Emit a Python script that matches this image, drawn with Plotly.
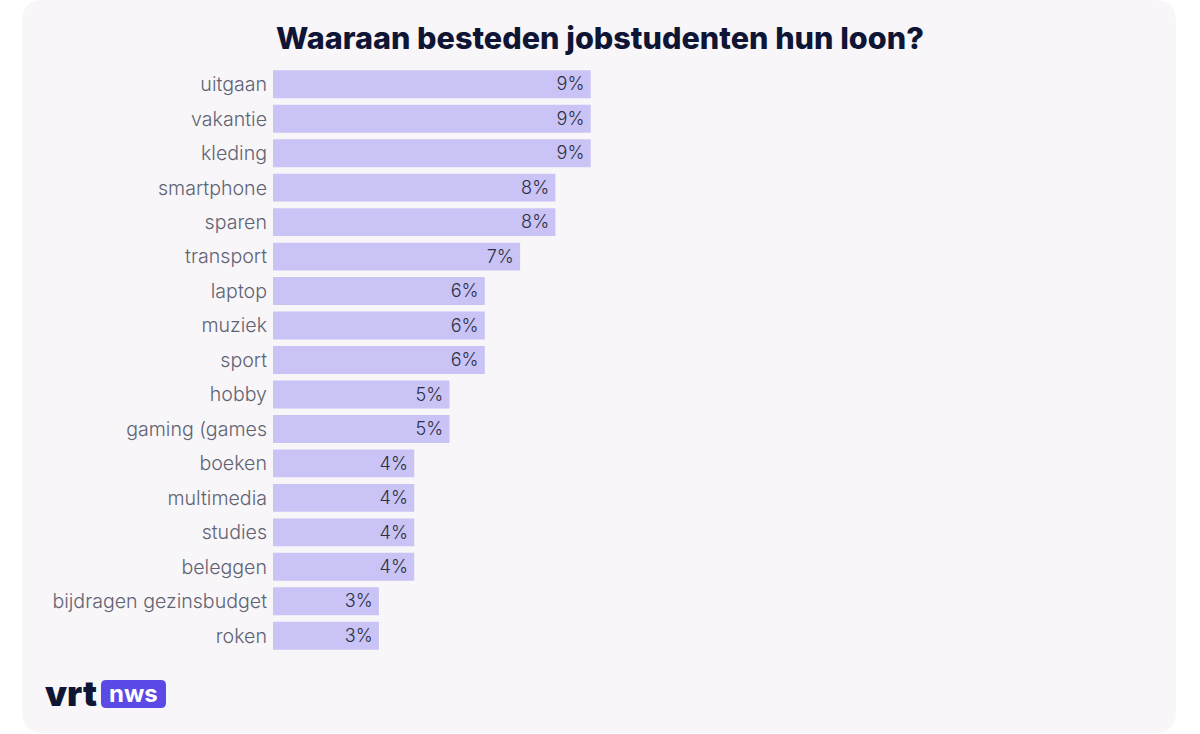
import plotly.graph_objects as go

categories = [
    "uitgaan", "vakantie", "kleding", "smartphone", "sparen", "transport",
    "laptop", "muziek", "sport", "hobby", "gaming (games", "boeken",
    "multimedia", "studies", "beleggen", "bijdragen gezinsbudget", "roken",
]
percentages = [9, 9, 9, 8, 8, 7, 6, 6, 6, 5, 5, 4, 4, 4, 4, 3, 3]

W, H = 1200, 734
ML, MR, MT, MB = 273, 100, 67, 81
PW, PH = W - ML - MR, H - MT - MB


def px(x):
    return (x - ML) / PW


def py(y):
    return (H - MB - y) / PH


def rounded_rect(x0, y0, x1, y1, r):
    # path in paper coords for a rounded rectangle given in pixels
    pts = [
        f"M {px(x0 + r)},{py(y0)}",
        f"L {px(x1 - r)},{py(y0)}",
        f"Q {px(x1)},{py(y0)} {px(x1)},{py(y0 + r)}",
        f"L {px(x1)},{py(y1 - r)}",
        f"Q {px(x1)},{py(y1)} {px(x1 - r)},{py(y1)}",
        f"L {px(x0 + r)},{py(y1)}",
        f"Q {px(x0)},{py(y1)} {px(x0)},{py(y1 - r)}",
        f"L {px(x0)},{py(y0 + r)}",
        f"Q {px(x0)},{py(y0)} {px(x0 + r)},{py(y0)}",
        "Z",
    ]
    return " ".join(pts)


fig = go.Figure(
    go.Bar(
        x=percentages,
        y=categories,
        orientation="h",
        marker_color="#c9c3f6",
        marker_line_width=0,
        text=[f"{v}%\u2009" for v in percentages],
        textposition="inside",
        insidetextanchor="end",
        textfont=dict(family="Inter", size=19, color="#2d3042", weight=300),
        hoverinfo="skip",
    )
)

fig.update_layout(
    width=W,
    height=H,
    margin=dict(l=ML, r=MR, t=MT, b=MB),
    paper_bgcolor="white",
    plot_bgcolor="rgba(0,0,0,0)",
    bargap=0.19,
    showlegend=False,
    title=dict(
        text="Waaraan besteden jobstudenten hun loon?",
        x=0.5,
        xref="container",
        xanchor="center",
        y=1 - 38 / H,
        yref="container",
        yanchor="middle",
        font=dict(family="Inter", size=30.6, color="#0f1535", weight=800),
    ),
    xaxis=dict(
        range=[0, PW / 35.3],
        visible=False,
        fixedrange=True,
    ),
    yaxis=dict(
        autorange="reversed",
        showgrid=False,
        zeroline=False,
        showline=False,
        ticks="",
        ticklabelstandoff=5,
        tickfont=dict(family="Inter", size=19.6, color="#5f6374", weight=300),
        fixedrange=True,
    ),
    shapes=[
        dict(
            type="path",
            path=rounded_rect(22, 0, 1176, 733, 22),
            xref="paper",
            yref="paper",
            fillcolor="#f8f6f8",
            line_width=0,
            layer="below",
        ),
        dict(
            type="path",
            path=rounded_rect(101, 680, 166, 708, 5),
            xref="paper",
            yref="paper",
            fillcolor="#5b4ae6",
            line_width=0,
            layer="above",
        ),
    ],
    annotations=[
        dict(
            text="vrt",
            x=px(43),
            y=py(693),
            xref="paper",
            yref="paper",
            xanchor="left",
            yanchor="middle",
            showarrow=False,
            font=dict(family="Inter", size=35, color="#0f1535", weight=900),
        ),
        dict(
            text="nws",
            x=px(133.5),
            y=py(693),
            xref="paper",
            yref="paper",
            xanchor="center",
            yanchor="middle",
            showarrow=False,
            font=dict(family="Inter", size=24, color="white", weight=700),
        ),
    ],
)

# the page is photographed from its top-left corner, so drop the body margin
fig.write_html(
    "out.html",
    config={"displayModeBar": False},
    post_script="document.body.style.margin='0';",
)
